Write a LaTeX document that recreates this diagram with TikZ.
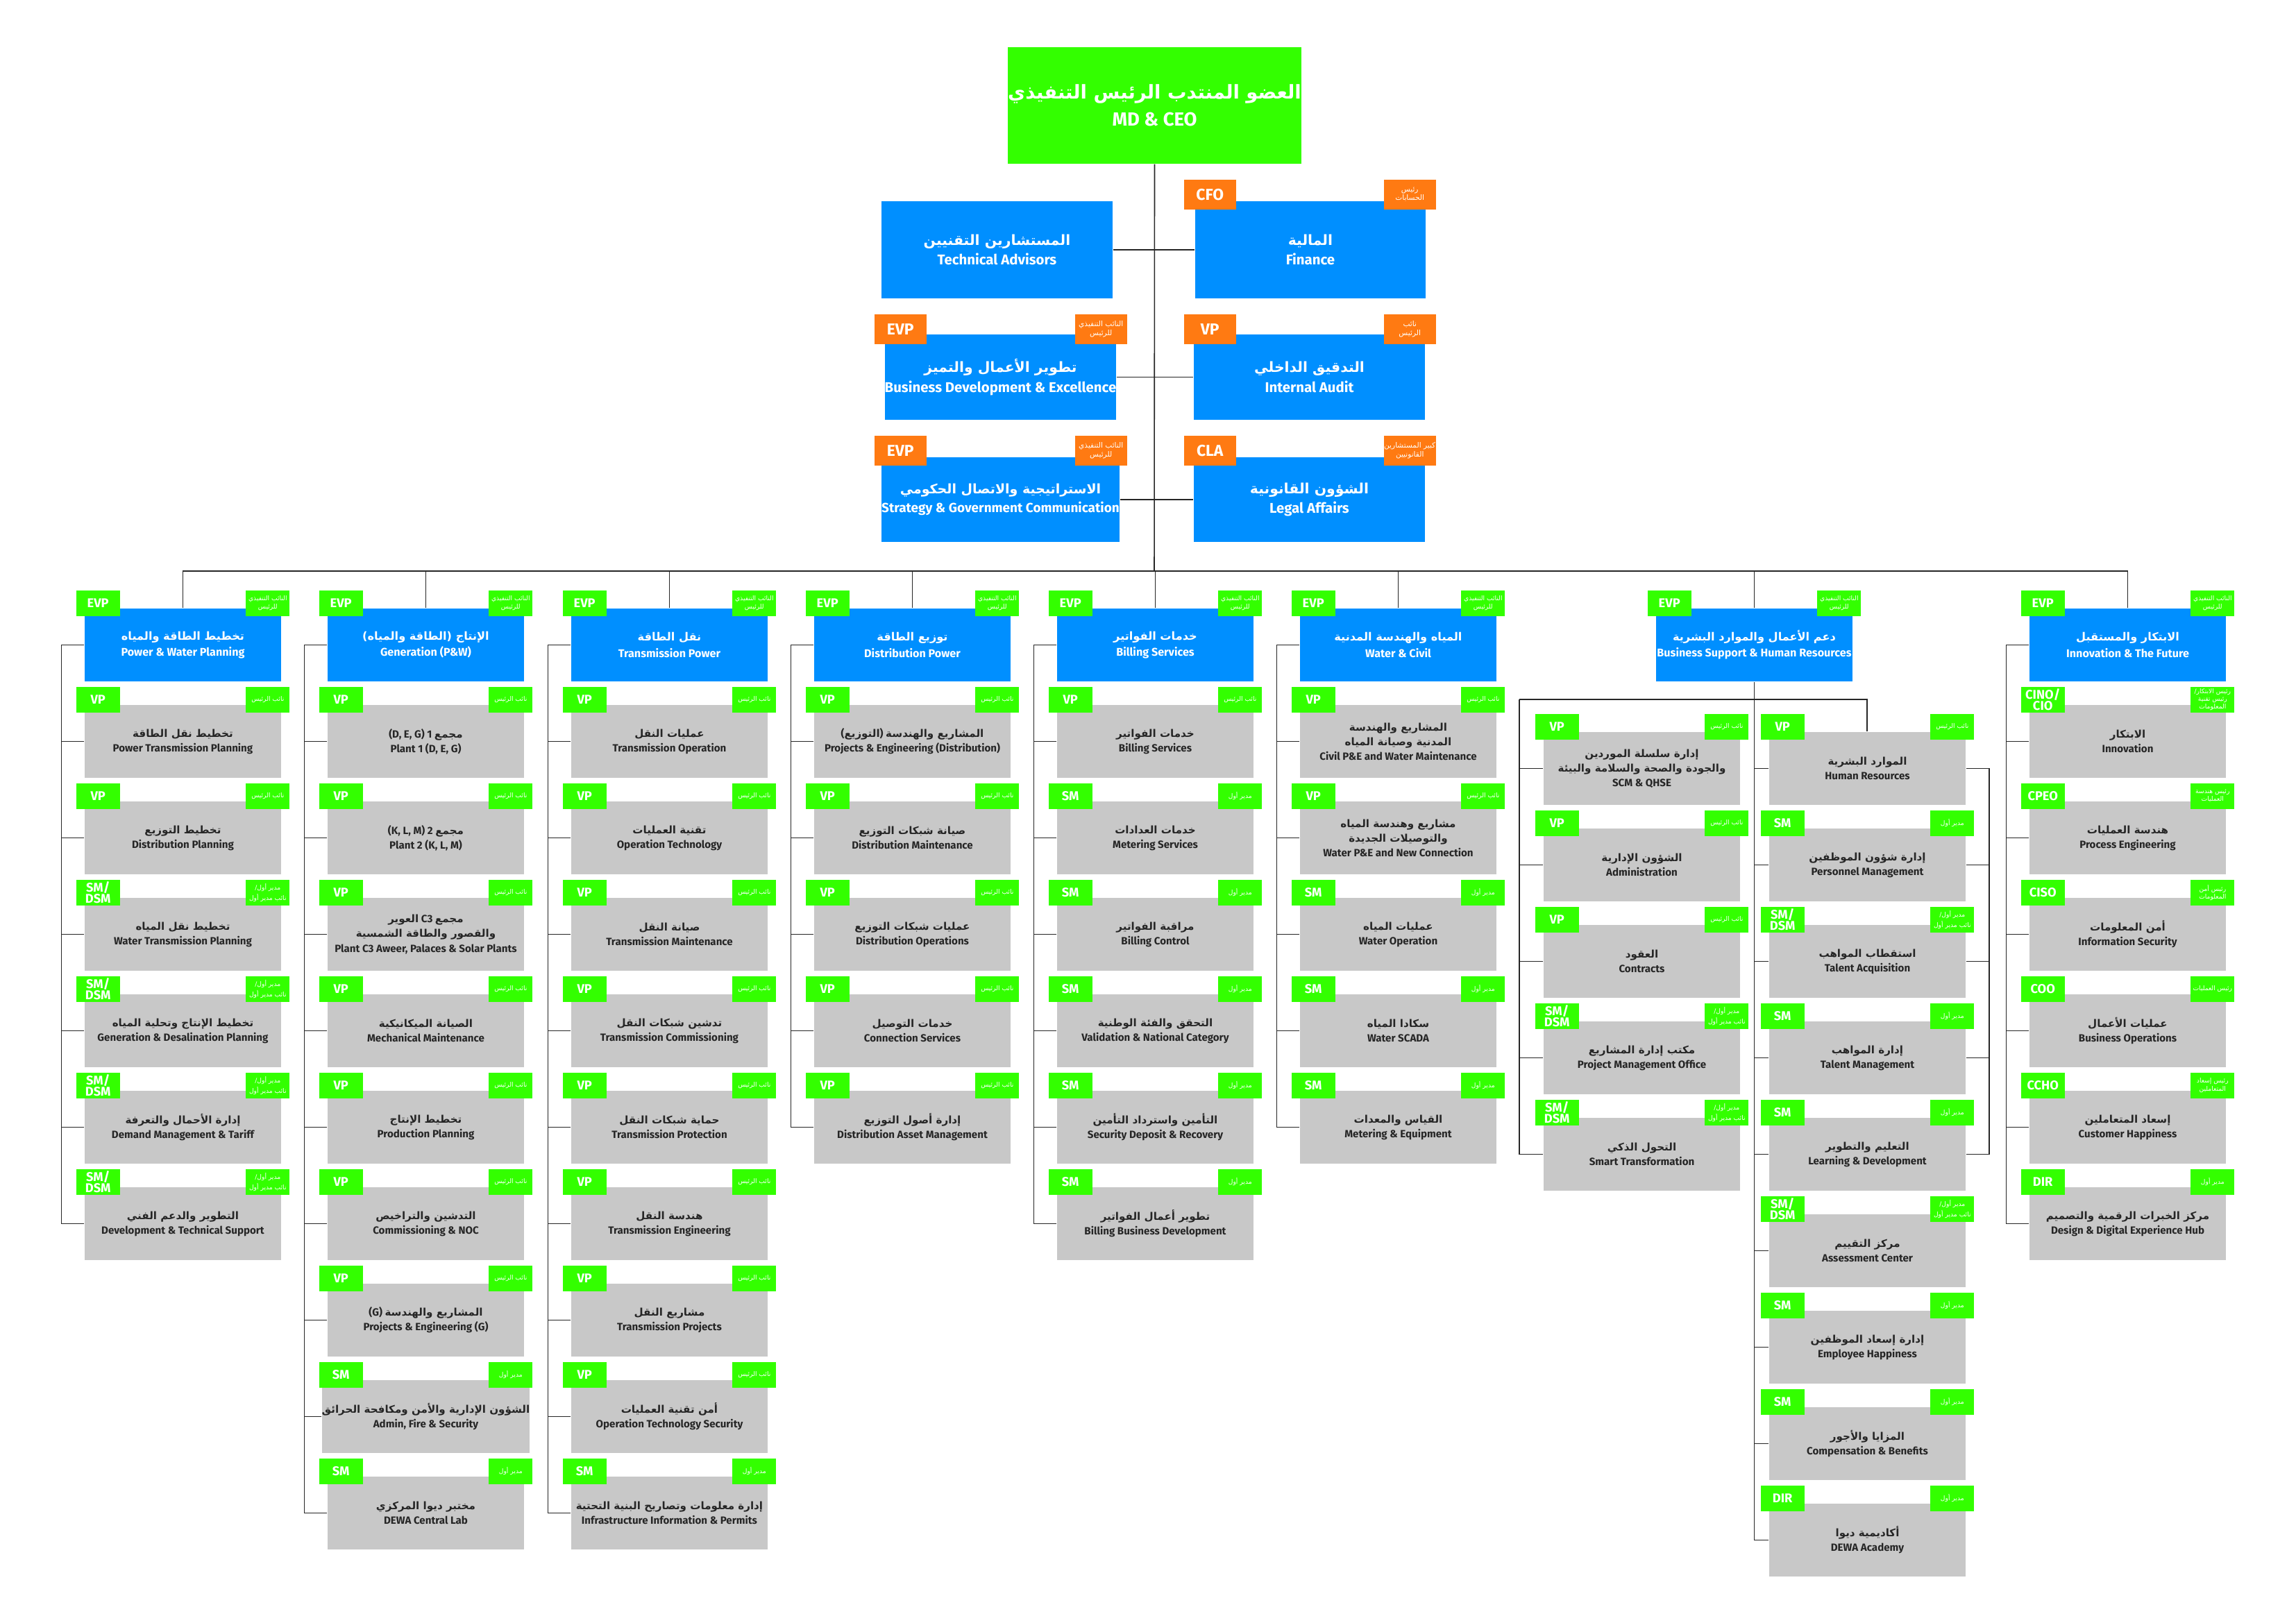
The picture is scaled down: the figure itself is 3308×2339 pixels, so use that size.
\documentclass[tikz,border=0pt]{standalone}
\usepackage{fontspec}
\setmainfont{Fira Sans}
\newfontfamily\arfont[Script=Arabic]{DejaVu Sans}
\TeXXeTstate=1
\newcommand\AR[1]{{\arfont\beginR#1\endR}}
\definecolor{dgreen}{RGB}{51,255,0}
\definecolor{dblue}{RGB}{0,143,255}
\definecolor{dgrey}{RGB}{200,200,200}
\definecolor{dorange}{RGB}{255,122,18}
\tikzset{
 ln/.style={draw=black!85,line width=0.45pt},
 sub/.style={fill=dgrey,minimum width=28.3mm,minimum height=10.5mm,inner sep=0,align=center,font=\fontsize{4.3}{6}\selectfont\bfseries,text=black!85},
 hdr/.style={fill=dblue,minimum width=28.3mm,minimum height=10.5mm,inner sep=0,align=center,font=\fontsize{4.6}{6.6}\selectfont\bfseries,text=white},
 top/.style={fill=dblue,inner sep=0,align=center,font=\fontsize{5.8}{8.2}\selectfont\bfseries,text=white},
 ltag/.style={fill=dgreen,minimum width=6.3mm,minimum height=3.7mm,inner sep=0,align=center,font=\fontsize{5.2}{4.4}\selectfont\bfseries,text=white},
 rtag/.style={fill=dgreen,minimum width=6.3mm,minimum height=3.7mm,inner sep=0,align=center,font=\fontsize{2.6}{3.2}\selectfont,text=white},
 oltag/.style={fill=dorange,minimum width=7.5mm,minimum height=4.3mm,inner sep=0,align=center,font=\fontsize{6.5}{7}\selectfont\bfseries,text=white},
 ortag/.style={fill=dorange,minimum width=7.5mm,minimum height=4.3mm,inner sep=0,align=center,font=\fontsize{3}{3.6}\selectfont,text=white},
}
% sub box: name, x, y0, index, left tag, right tag, content
\newcommand\SB[7]{%
 \node[sub] (#1) at ({#2+141.5},{#3+139*#4+52.5}) {#7};
 \node[ltag,anchor=north west] (#1-l) at ({#2-13},{#3+139*#4-27}) {#5};
 \node[rtag,anchor=north east] (#1-r) at ({#2+296},{#3+139*#4-27}) {#6};
}
\newcommand\HB[5]{%
 \node[hdr] (#1) at ({#2+141.5},929.5) {#5};
 \node[ltag,anchor=north west] (#1-l) at ({#2-13},850) {#3};
 \node[rtag,anchor=north east] (#1-r) at ({#2+296},850) {#4};
}
\newcommand\Col[2]{%
 \draw[ln] (#1h.north) -- (#1h.north |- bus);
 \draw[ln] (#1h.west) -- ++(-33,0) coordinate (#1t);
 \draw[ln] (#1t) -- (#1t |- #1s#2.west);
 \foreach \i in {1,...,#2} {\draw[ln] (#1s\i.west) -- (#1s\i.west -| #1t);}
}
\newcommand\EVPt{\AR{النائب التنفيذي}\\\AR{للرئيس}}
\newcommand\VPt{\AR{نائب الرئيس}}
\newcommand\SMt{\AR{مدير أول}}
\newcommand\SDt{\AR{مدير أول/}\\\AR{نائب مدير أول}}
\newcommand\SD{SM/\\DSM}
\begin{document}
\begin{tikzpicture}[x=0.1mm,y=-0.1mm]
\useasboundingbox[fill=white] (0,0) rectangle (3308,2339);
\coordinate (bus) at (1663,823);
% CEO
\node[fill=dgreen,minimum width=40.4mm,minimum height=16.8mm,inner sep=0,align=center,text=white,font=\fontsize{7.8}{11}\selectfont\bfseries] (ceo) at (1663.5,152) {\AR{العضو المنتدب الرئيس التنفيذي}\\MD \& CEO};
% top boxes
\node[top,minimum width=33.3mm,minimum height=14mm] (ta) at (1436.5,360) {\AR{المستشارين التقنيين}\\Technical Advisors};
\node[top,minimum width=33.2mm,minimum height=14mm] (fin) at (1888,360) {\AR{المالية}\\Finance};
\node[oltag,anchor=north west] (fin-l) at (1705,258) {CFO};
\node[ortag,anchor=north west] (fin-r) at (1993,258) {\AR{رئيس}\\\AR{الحسابات}};
\node[top,minimum width=33.3mm,minimum height=12.3mm] (bde) at (1441.5,543.5) {\AR{تطوير الأعمال والتميز}\\Business Development \& Excellence};
\node[oltag,anchor=north west] (bde-l) at (1259,452) {EVP};
\node[ortag,anchor=north west] (bde-r) at (1548,452) {\AR{النائب التنفيذي}\\\AR{للرئيس}};
\node[top,minimum width=33.3mm,minimum height=12.3mm] (ia) at (1886.5,543.5) {\AR{التدقيق الداخلي}\\Internal Audit};
\node[oltag,anchor=north west] (ia-l) at (1705,452) {VP};
\node[ortag,anchor=north west] (ia-r) at (1993,452) {\AR{نائب}\\\AR{الرئيس}};
\node[top,minimum width=33.3mm,minimum height=12.2mm,font=\fontsize{5.4}{7.6}\selectfont\bfseries] (sgc) at (1441.5,720) {\AR{الاستراتيجية والاتصال الحكومي}\\Strategy \& Government Communication};
\node[oltag,anchor=north west] (sgc-l) at (1259,627) {EVP};
\node[ortag,anchor=north west] (sgc-r) at (1548,627) {\AR{النائب التنفيذي}\\\AR{للرئيس}};
\node[top,minimum width=33.3mm,minimum height=12.2mm] (la) at (1886.5,720) {\AR{الشؤون القانونية}\\Legal Affairs};
\node[oltag,anchor=north west] (la-l) at (1705,627) {CLA};
\node[ortag,anchor=north west] (la-r) at (1993,627) {\AR{كبير المستشارين}\\\AR{القانونيين}};
\draw[ln] (ceo.south) -- (bus);
\draw[ln] (ta.east) -- (fin.west);
\draw[ln] (bde.east) -- (ia.west);
\draw[ln] (sgc.east) -- (la.west);
\draw[ln] (bus -| 263,0) coordinate (busL) -- (bus -| 3066,0) coordinate (busR);
% column 1
\HB{c1h}{122}{EVP}{\EVPt}{\AR{تخطيط الطاقة والمياه}\\Power \& Water Planning}
\SB{c1s1}{122}{1016}{0}{VP}{\VPt}{\AR{تخطيط نقل الطاقة}\\Power Transmission Planning}
\SB{c1s2}{122}{1016}{1}{VP}{\VPt}{\AR{تخطيط التوزيع}\\Distribution Planning}
\SB{c1s3}{122}{1016}{2}{\SD}{\SDt}{\AR{تخطيط نقل المياه}\\Water Transmission Planning}
\SB{c1s4}{122}{1016}{3}{\SD}{\SDt}{\AR{تخطيط الإنتاج وتحلية المياه}\\Generation \& Desalination Planning}
\SB{c1s5}{122}{1016}{4}{\SD}{\SDt}{\AR{إدارة الأحمال والتعرفة}\\Demand Management \& Tariff}
\SB{c1s6}{122}{1016}{5}{\SD}{\SDt}{\AR{التطوير والدعم الفني}\\Development \& Technical Support}
\Col{c1}{6}
% column 2
\HB{c2h}{472}{EVP}{\EVPt}{\AR{الإنتاج (الطاقة والمياه)}\\Generation (P\&W)}
\SB{c2s1}{472}{1016}{0}{VP}{\VPt}{(D, E, G) 1 \AR{مجمع}\\Plant 1 (D, E, G)}
\SB{c2s2}{472}{1016}{1}{VP}{\VPt}{(K, L, M) 2 \AR{مجمع}\\Plant 2 (K, L, M)}
\SB{c2s3}{472}{1016}{2}{VP}{\VPt}{\AR{العوير} C3 \AR{مجمع}\\\AR{والقصور والطاقة الشمسية}\\Plant C3 Aweer, Palaces \& Solar Plants}
\SB{c2s4}{472}{1016}{3}{VP}{\VPt}{\AR{الصيانة الميكانيكية}\\Mechanical Maintenance}
\SB{c2s5}{472}{1016}{4}{VP}{\VPt}{\AR{تخطيط الإنتاج}\\Production Planning}
\SB{c2s6}{472}{1016}{5}{VP}{\VPt}{\AR{التدشين والتراخيص}\\Commissioning \& NOC}
\SB{c2s7}{472}{1016}{6}{VP}{\VPt}{(G) \AR{المشاريع والهندسة}\\Projects \& Engineering (G)}
\SB{c2s8}{472}{1016}{7}{SM}{\SMt}{\AR{الشؤون الإدارية والأمن ومكافحة الحرائق}\\Admin, Fire \& Security}
\SB{c2s9}{472}{1016}{8}{SM}{\SMt}{\AR{مختبر ديوا المركزي}\\DEWA Central Lab}
\Col{c2}{9}
% column 3
\HB{c3h}{823}{EVP}{\EVPt}{\AR{نقل الطاقة}\\Transmission Power}
\SB{c3s1}{823}{1016}{0}{VP}{\VPt}{\AR{عمليات النقل}\\Transmission Operation}
\SB{c3s2}{823}{1016}{1}{VP}{\VPt}{\AR{تقنية العمليات}\\Operation Technology}
\SB{c3s3}{823}{1016}{2}{VP}{\VPt}{\AR{صيانة النقل}\\Transmission Maintenance}
\SB{c3s4}{823}{1016}{3}{VP}{\VPt}{\AR{تدشين شبكات النقل}\\Transmission Commissioning}
\SB{c3s5}{823}{1016}{4}{VP}{\VPt}{\AR{حماية شبكات النقل}\\Transmission Protection}
\SB{c3s6}{823}{1016}{5}{VP}{\VPt}{\AR{هندسة النقل}\\Transmission Engineering}
\SB{c3s7}{823}{1016}{6}{VP}{\VPt}{\AR{مشاريع النقل}\\Transmission Projects}
\SB{c3s8}{823}{1016}{7}{VP}{\VPt}{\AR{أمن تقنية العمليات}\\Operation Technology Security}
\SB{c3s9}{823}{1016}{8}{SM}{\SMt}{\AR{إدارة معلومات وتصاريح البنية التحتية}\\Infrastructure Information \& Permits}
\Col{c3}{9}
% column 4
\HB{c4h}{1173}{EVP}{\EVPt}{\AR{توزيع الطاقة}\\Distribution Power}
\SB{c4s1}{1173}{1016}{0}{VP}{\VPt}{(\AR{التوزيع}) \AR{المشاريع والهندسة}\\Projects \& Engineering (Distribution)}
\SB{c4s2}{1173}{1016}{1}{VP}{\VPt}{\AR{صيانة شبكات التوزيع}\\Distribution Maintenance}
\SB{c4s3}{1173}{1016}{2}{VP}{\VPt}{\AR{عمليات شبكات التوزيع}\\Distribution Operations}
\SB{c4s4}{1173}{1016}{3}{VP}{\VPt}{\AR{خدمات التوصيل}\\Connection Services}
\SB{c4s5}{1173}{1016}{4}{VP}{\VPt}{\AR{إدارة أصول التوزيع}\\Distribution Asset Management}
\Col{c4}{5}
% column 5
\HB{c5h}{1523}{EVP}{\EVPt}{\AR{خدمات الفواتير}\\Billing Services}
\SB{c5s1}{1523}{1016}{0}{VP}{\VPt}{\AR{خدمات الفواتير}\\Billing Services}
\SB{c5s2}{1523}{1016}{1}{SM}{\SMt}{\AR{خدمات العدادات}\\Metering Services}
\SB{c5s3}{1523}{1016}{2}{SM}{\SMt}{\AR{مراقبة الفواتير}\\Billing Control}
\SB{c5s4}{1523}{1016}{3}{SM}{\SMt}{\AR{التحقق والفئة الوطنية}\\Validation \& National Category}
\SB{c5s5}{1523}{1016}{4}{SM}{\SMt}{\AR{التأمين واسترداد التأمين}\\Security Deposit \& Recovery}
\SB{c5s6}{1523}{1016}{5}{SM}{\SMt}{\AR{تطوير أعمال الفواتير}\\Billing Business Development}
\Col{c5}{6}
% column 6
\HB{c6h}{1873}{EVP}{\EVPt}{\AR{المياه والهندسة المدنية}\\Water \& Civil}
\SB{c6s1}{1873}{1016}{0}{VP}{\VPt}{\AR{المشاريع والهندسة}\\\AR{المدنية وصيانة المياه}\\Civil P\&E and Water Maintenance}
\SB{c6s2}{1873}{1016}{1}{VP}{\VPt}{\AR{مشاريع وهندسة المياه}\\\AR{والتوصيلات الجديدة}\\Water P\&E and New Connection}
\SB{c6s3}{1873}{1016}{2}{SM}{\SMt}{\AR{عمليات المياه}\\Water Operation}
\SB{c6s4}{1873}{1016}{3}{SM}{\SMt}{\AR{سكادا المياه}\\Water SCADA}
\SB{c6s5}{1873}{1016}{4}{SM}{\SMt}{\AR{القياس والمعدات}\\Metering \& Equipment}
\Col{c6}{5}
% column 8
\HB{c8h}{2924}{EVP}{\EVPt}{\AR{الابتكار والمستقبل}\\Innovation \& The Future}
\SB{c8s1}{2924}{1016}{0}{CINO/\\CIO}{\AR{رئيس الابتكار/}\\\AR{رئيس تقنية}\\\AR{المعلومات}}{\AR{الابتكار}\\Innovation}
\SB{c8s2}{2924}{1016}{1}{CPEO}{\AR{رئيس هندسة}\\\AR{العمليات}}{\AR{هندسة العمليات}\\Process Engineering}
\SB{c8s3}{2924}{1016}{2}{CISO}{\AR{رئيس أمن}\\\AR{المعلومات}}{\AR{أمن المعلومات}\\Information Security}
\SB{c8s4}{2924}{1016}{3}{COO}{\AR{رئيس العمليات}}{\AR{عمليات الأعمال}\\Business Operations}
\SB{c8s5}{2924}{1016}{4}{CCHO}{\AR{رئيس إسعاد}\\\AR{المتعاملين}}{\AR{إسعاد المتعاملين}\\Customer Happiness}
\SB{c8s6}{2924}{1016}{5}{DIR}{\SMt}{\AR{مركز الخبرات الرقمية والتصميم}\\Design \& Digital Experience Hub}
\Col{c8}{6}
% column 7
\HB{c7h}{2386}{EVP}{\EVPt}{\AR{دعم الأعمال والموارد البشرية}\\Business Support \& Human Resources}
\SB{c7a1}{2224}{1055}{0}{VP}{\VPt}{\AR{إدارة سلسلة الموردين}\\\AR{والجودة والصحة والسلامة والبيئة}\\SCM \& QHSE}
\SB{c7a2}{2224}{1055}{1}{VP}{\VPt}{\AR{الشؤون الإدارية}\\Administration}
\SB{c7a3}{2224}{1055}{2}{VP}{\VPt}{\AR{العقود}\\Contracts}
\SB{c7a4}{2224}{1055}{3}{\SD}{\SDt}{\AR{مكتب إدارة المشاريع}\\Project Management Office}
\SB{c7a5}{2224}{1055}{4}{\SD}{\SDt}{\AR{التحول الذكي}\\Smart Transformation}
\SB{c7b1}{2549}{1055}{0}{VP}{\VPt}{\AR{الموارد البشرية}\\Human Resources}
\SB{c7b2}{2549}{1055}{1}{SM}{\SMt}{\AR{إدارة شؤون الموظفين}\\Personnel Management}
\SB{c7b3}{2549}{1055}{2}{\SD}{\SDt}{\AR{استقطاب المواهب}\\Talent Acquisition}
\SB{c7b4}{2549}{1055}{3}{SM}{\SMt}{\AR{إدارة المواهب}\\Talent Management}
\SB{c7b5}{2549}{1055}{4}{SM}{\SMt}{\AR{التعليم والتطوير}\\Learning \& Development}
\SB{c7b6}{2549}{1055}{5}{\SD}{\SDt}{\AR{مركز التقييم}\\Assessment Center}
\SB{c7b7}{2549}{1055}{6}{SM}{\SMt}{\AR{إدارة إسعاد الموظفين}\\Employee Happiness}
\SB{c7b8}{2549}{1055}{7}{SM}{\SMt}{\AR{المزايا والأجور}\\Compensation \& Benefits}
\SB{c7b9}{2549}{1055}{8}{DIR}{\SMt}{\AR{أكاديمية ديوا}\\DEWA Academy}
\draw[ln] (c7h.north) -- (c7h.north |- bus);
\draw[ln] (c7h.south) -- (c7h.south |- c7b9.west) coordinate (c7m);
\coordinate (c7sl) at (2189,1008);
\coordinate (c7sr) at (2690,1008);
\draw[ln] (c7sl) -- (c7sr) -- (c7sr |- c7b1.north);
\draw[ln] (c7sl) -- (c7sl |- c7a5.west);
\foreach \i in {1,...,5} {\draw[ln] (c7a\i.west) -- (c7a\i.west -| c7sl);}
\foreach \i in {1,...,9} {\draw[ln] (c7b\i.west) -- (c7b\i.west -| c7m);}
\coordinate (c7rr) at (2866,1008);
\draw[ln] (c7b1.east) -- (c7b1.east -| c7rr) -- (c7rr |- c7b5.east);
\foreach \i in {2,...,5} {\draw[ln] (c7b\i.east) -- (c7b\i.east -| c7rr);}
\end{tikzpicture}
\end{document}
